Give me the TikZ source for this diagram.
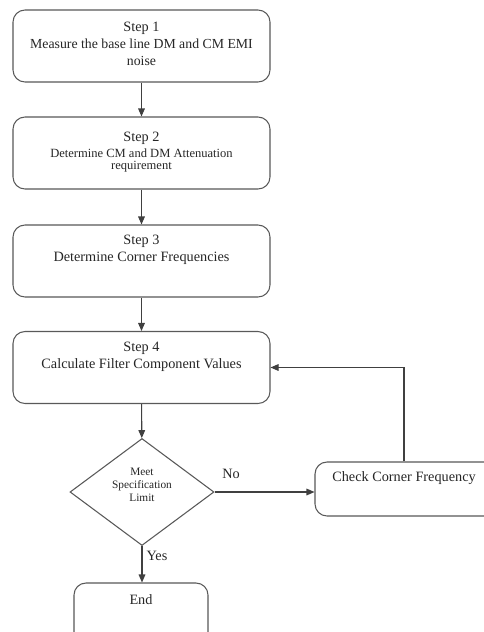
\documentclass[tikz,border=0pt]{standalone}
\usepackage{fontspec}
\setmainfont{Liberation Serif}
\usetikzlibrary{shapes.geometric,arrows.meta}
\begin{document}
\begin{tikzpicture}[x=0.75pt,y=-0.75pt,
  stepbox/.style={draw=black!65,line width=0.8pt,rounded corners=9pt,minimum width=192.75pt,minimum height=54pt,inner sep=0pt},
  txt/.style={font=\fontsize{10.7}{12.8}\selectfont,align=center,inner sep=0pt,text=black!85},
  flow/.style={draw=black!75,line width=0.8pt,-{Triangle[length=6pt,width=5pt]}},
  decision/.style={draw=black!65,line width=0.8pt,diamond,minimum width=108pt,minimum height=80.25pt,inner sep=0pt}]
\useasboundingbox (0,0) rectangle (484,632);
\clip (0,0) rectangle (484,632);
\fill[white] (0,0) rectangle (484,632);

\node[stepbox] (b1) at (141.5,46) {};
\node[txt,font=\fontsize{10.35}{12.8}\selectfont] (t1) at (141.5,44) {{\fontsize{10.7}{12.8}\selectfont Step 1}\\Measure the base line DM and CM EMI\\noise};

\node[stepbox] (b2) at (141.5,153) {};
\node[txt,font=\fontsize{9.4}{9.2}\selectfont] (t2) at (141.5,152) {{\fontsize{10.7}{12.8}\selectfont Step 2}\\[2.5pt]Determine CM and DM Attenuation\\requirement};

\node[stepbox] (b3) at (141.5,261) {};
\node[txt] (t3) at (141.5,250) {Step 3\\Determine Corner Frequencies};

\node[stepbox] (b4) at (141.5,367.5) {};
\node[txt] (t4) at (141.5,357) {Step 4\\Calculate Filter Component Values};

\node[decision] (d) at (142,492) {};
\node[txt,font=\fontsize{8.5}{10}\selectfont] (dt) at (142,485) {Meet\\Specification\\Limit};

\node[stepbox,minimum width=138.75pt,minimum height=40.5pt] (chk) at (407.5,489) {};
\node[txt] (chkt) at (404,478) {Check Corner Frequency};

\node[stepbox,minimum width=100.5pt,minimum height=54pt] (end) at (141,619) {};
\node[txt] (endt) at (141,600) {End};

\node[txt] (no) at (231,474) {No};
\node[txt] (yes) at (157,556) {Yes};

\coordinate (loopx) at (404,0);

\draw[flow] (b1) -- (b2);
\draw[flow] (b2) -- (b3);
\draw[flow] (b3) -- (b4);
\draw[flow] (b4) -- (d);
\draw[flow] (d.east) -- (chk.west |- d.east);
\draw[flow] (d.south) -- (end.north -| d.south);
\draw[flow] (loopx |- chk.north) |- (b4.east);
\end{tikzpicture}
\end{document}
